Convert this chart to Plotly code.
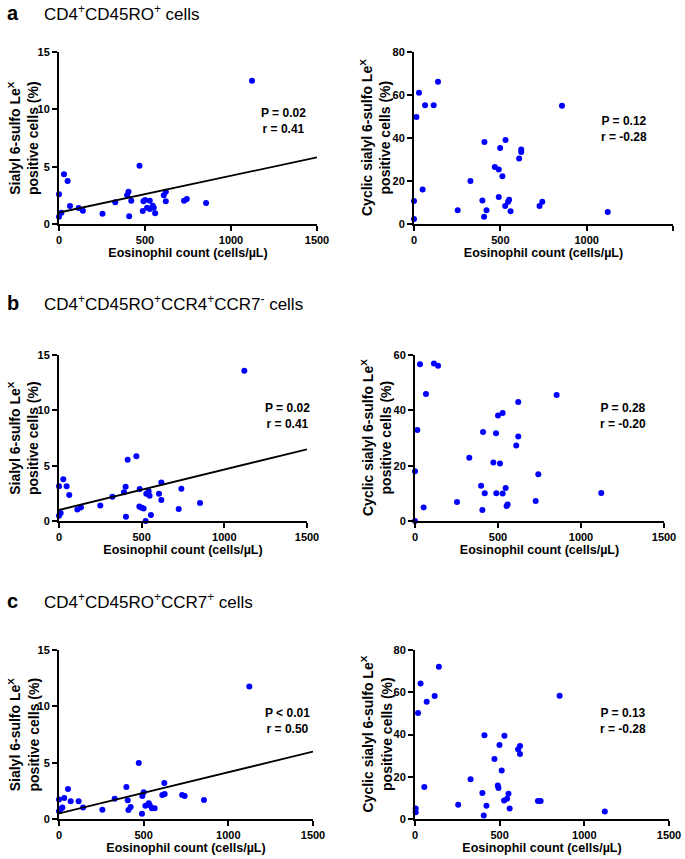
import plotly.graph_objects as go

# values
# panel a: CD4+CD45RO+ cells
a_sialyl_x = [1122, 29, 50, 468, 0, 0, 14, 64, 114, 139, 253, 327, 396, 404, 420, 408,
              491, 501, 487, 512, 528, 528, 545, 551, 559, 609, 621, 621, 727, 743, 855]
a_sialyl_y = [12.5, 4.33, 3.75, 5.09, 2.59, 0.64, 0.99, 1.57, 1.40, 1.16, 0.90, 1.89, 2.50, 2.82, 2.03, 0.67,
              1.98, 2.09, 1.13, 1.42, 2.03, 1.31, 1.60, 1.42, 0.93, 2.50, 2.82, 1.98, 2.03, 2.18, 1.83]
a_sialyl_fit_x = [0, 1500]
a_sialyl_fit_y = [1.0, 5.81]
a_cyclic_x = [139, 29, 64, 114, 14, 857, 408, 530, 499, 621, 621, 609, 468, 491, 512, 327,
              50, 0, 396, 491, 551, 545, 528, 559, 743, 727, 253, 420, 406, 1122, 0]
a_cyclic_y = [66.2, 61.1, 55.2, 55.2, 49.8, 55.0, 38.1, 39.1, 35.3, 34.7, 33.5, 30.5, 26.5, 25.4, 22.2, 20.0,
              16.0, 10.7, 10.9, 12.6, 11.3, 10.4, 8.4, 5.9, 10.4, 8.4, 6.4, 6.4, 3.4, 5.6, 2.3]

# panel b: CD4+CD45RO+CCR4+CCR7- cells
b_sialyl_x = [1121, 26, 0, 46, 62, 0, 10, 111, 133, 250, 323, 393, 403, 415, 468, 405,
              488, 486, 500, 512, 524, 528, 542, 548, 556, 605, 619, 619, 724, 740, 853]
b_sialyl_y = [13.58, 3.77, 3.13, 3.13, 2.35, 0.48, 0.72, 1.05, 1.23, 1.39, 2.20, 2.59, 3.10, 5.54, 5.84, 0.39,
              2.89, 1.30, 1.20, 1.14, 0.0, 2.47, 2.68, 2.29, 0.54, 2.47, 3.49, 1.90, 1.08, 2.92, 1.63]
b_sialyl_fit_x = [0, 1500]
b_sialyl_fit_y = [0.99, 6.48]
b_cyclic_x = [30, 114, 139, 66, 853, 14, 0, 0, 52, 253, 327, 398, 410, 420, 406, 472,
              488, 500, 490, 512, 528, 528, 546, 552, 558, 610, 622, 622, 727, 743, 1122]
b_cyclic_y = [56.7, 56.9, 56.1, 45.9, 45.5, 32.9, 18.0, 0.0, 4.9, 6.9, 22.9, 12.7, 32.2, 10.0, 4.0, 21.1,
              31.7, 38.1, 10.0, 20.8, 39.0, 9.9, 11.9, 5.4, 6.0, 27.3, 30.5, 43.0, 7.2, 16.9, 10.1]

# panel c: CD4+CD45RO+CCR7+ cells
c_sialyl_x = [1124, 53, 31, 0, 69, 116, 0, 20, 10, 142, 256, 329, 398, 406, 410, 423,
              471, 492, 500, 490, 510, 530, 536, 549, 565, 610, 624, 622, 727, 742, 856]
c_sialyl_y = [11.75, 2.66, 1.86, 1.72, 1.57, 1.57, 0.68, 1.01, 0.88, 1.01, 0.83, 1.80, 2.84, 1.66, 0.80, 1.07,
              4.97, 2.04, 2.37, 0.47, 1.18, 1.39, 1.21, 0.95, 0.95, 2.13, 2.22, 3.20, 2.13, 2.04, 1.69]
c_sialyl_fit_x = [0, 1500]
c_sialyl_fit_y = [0.50, 5.98]
c_cyclic_x = [141, 33, 116, 69, 18, 854, 55, 4, 4, 255, 328, 398, 410, 422, 406, 469,
              499, 489, 493, 512, 528, 526, 544, 552, 559, 609, 620, 620, 726, 742, 1121]
c_cyclic_y = [72.1, 64.1, 58.2, 55.5, 50.2, 58.4, 15.1, 5.0, 3.2, 6.8, 18.8, 12.3, 39.6, 6.3, 1.6, 28.4,
              35.0, 15.8, 14.7, 22.9, 39.4, 8.7, 9.6, 12.0, 5.0, 33.0, 34.6, 30.8, 8.5, 8.5, 3.6]

x_ticks = [0, 500, 1000, 1500]
sialyl_ticks = [0, 5, 10, 15]
cyclic_ticks_80 = [0, 20, 40, 60, 80]
cyclic_ticks_60 = [0, 20, 40, 60]

stats = ["P = 0.02<br>r = 0.41", "P = 0.12<br>r = -0.28",
         "P = 0.02<br>r = 0.41", "P = 0.28<br>r = -0.20",
         "P < 0.01<br>r = 0.50", "P = 0.13<br>r = -0.28"]
letters = ["a", "b", "c"]
titles = ["CD4<sup>+</sup>CD45RO<sup>+</sup> cells",
          "CD4<sup>+</sup>CD45RO<sup>+</sup>CCR4<sup>+</sup>CCR7<sup>-</sup> cells",
          "CD4<sup>+</sup>CD45RO<sup>+</sup>CCR7<sup>+</sup> cells"]
sialyl_title = "Sialyl 6-sulfo Le<sup>X</sup><br>positive cells (%)"
cyclic_title = "Cyclic sialyl 6-sulfo Le<sup>X</sup><br>positive cells (%)"
x_title = "Eosinophil count (cells/µL)"

W, H = 685, 859
FONT = "Liberation Sans, Arial, sans-serif"

def fx(p):
    return p / W

def fy(p):
    return 1 - p / H

# plot boxes in pixels: left, right, top, bottom ; stats position in axis-domain units ; y title centre (px)
panels = [
    dict(x=a_sialyl_x, y=a_sialyl_y, fx=a_sialyl_fit_x, fy=a_sialyl_fit_y, ticks=sialyl_ticks,
         ytitle=sialyl_title, box=(59, 317, 52, 224), sp=(0.87, 0.60), tx=23),
    dict(x=a_cyclic_x, y=a_cyclic_y, fx=None, fy=None, ticks=cyclic_ticks_80,
         ytitle=cyclic_title, box=(414, 673, 52, 224), sp=(0.81, 0.55), tx=375),
    dict(x=b_sialyl_x, y=b_sialyl_y, fx=b_sialyl_fit_x, fy=b_sialyl_fit_y, ticks=sialyl_ticks,
         ytitle=sialyl_title, box=(59, 307, 355, 521), sp=(0.92, 0.63), tx=23),
    dict(x=b_cyclic_x, y=b_cyclic_y, fx=None, fy=None, ticks=cyclic_ticks_60,
         ytitle=cyclic_title, box=(415, 664, 355, 521), sp=(0.835, 0.63), tx=376),
    dict(x=c_sialyl_x, y=c_sialyl_y, fx=c_sialyl_fit_x, fy=c_sialyl_fit_y, ticks=sialyl_ticks,
         ytitle=sialyl_title, box=(59, 313, 650, 819), sp=(0.90, 0.58), tx=23),
    dict(x=c_cyclic_x, y=c_cyclic_y, fx=None, fy=None, ticks=cyclic_ticks_80,
         ytitle=cyclic_title, box=(415, 669, 650, 819), sp=(0.82, 0.58), tx=376),
]

fig = go.Figure()
annotations = []
axis_common = dict(showline=True, linecolor="black", linewidth=2, ticks="outside", ticklen=5,
                   tickwidth=2, tickcolor="black", showgrid=False, zeroline=False, automargin=False,
                   tickfont=dict(family=FONT, size=11, color="black", weight="bold"))

for i, p in enumerate(panels):
    n = i + 1
    xa = "x" if n == 1 else f"x{n}"
    ya = "y" if n == 1 else f"y{n}"
    fig.add_trace(go.Scatter(x=p["x"], y=p["y"], mode="markers", xaxis=xa, yaxis=ya,
                             marker=dict(color="#0000ff", size=6), cliponaxis=False, showlegend=False))
    if p["fx"] is not None:
        fig.add_trace(go.Scatter(x=p["fx"], y=p["fy"], mode="lines", xaxis=xa, yaxis=ya,
                                 line=dict(color="black", width=1.8), showlegend=False))
    l, r, t, b = p["box"]
    xkey = "xaxis" if n == 1 else f"xaxis{n}"
    ykey = "yaxis" if n == 1 else f"yaxis{n}"
    fig.update_layout({
        xkey: dict(domain=[fx(l), fx(r)], anchor=ya, range=[0, 1500], tickvals=x_ticks,
                   title=dict(text=x_title, standoff=1,
                              font=dict(family=FONT, size=12.5, color="black", weight="bold")),
                   **axis_common),
        ykey: dict(domain=[fy(b), fy(t)], anchor=xa, range=[0, p["ticks"][-1]], tickvals=p["ticks"],
                   **axis_common),
    })
    # y titles as rotated annotations so they sit exactly where the reference has them
    annotations.append(dict(text=p["ytitle"], xref="paper", yref="paper", x=fx(p["tx"]),
                            y=(fy(b) + fy(t)) / 2, textangle=-90, showarrow=False,
                            xanchor="center", yanchor="middle", align="center",
                            font=dict(family=FONT, size=14, color="black", weight="bold")))
    annotations.append(dict(text=stats[i], xref=f"{xa} domain", yref=f"{ya} domain",
                            x=p["sp"][0], y=p["sp"][1], showarrow=False, align="center",
                            xanchor="center", yanchor="middle",
                            font=dict(family=FONT, size=12, color="black", weight="bold")))

# section letters and headings
row_centres = [9, 303, 601]
for k, (letter, title, yc) in enumerate(zip(letters, titles, row_centres)):
    if k == 0:
        pos = dict(y=1, yanchor="top")
    else:
        pos = dict(y=fy(yc), yanchor="middle")
    annotations.append(dict(text=letter, xref="paper", yref="paper", x=fx(5), xanchor="left",
                            showarrow=False, **pos,
                            font=dict(family=FONT, size=20, color="black", weight="bold")))
    annotations.append(dict(text=title, xref="paper", yref="paper", x=fx(42), xanchor="left",
                            showarrow=False, **pos,
                            font=dict(family=FONT, size=17, color="black")))

fig.update_layout(width=W, height=H, margin=dict(l=0, r=0, t=0, b=0),
                  paper_bgcolor="white", plot_bgcolor="white",
                  annotations=annotations)

# drop the default page margin and scrollbars so the figure fills the window exactly
page_fix = ("document.documentElement.style.overflow='hidden';"
            "document.body.style.overflow='hidden';"
            "document.body.style.margin='0';")
fig.write_html("out.html", config={"displayModeBar": False}, post_script=page_fix)
